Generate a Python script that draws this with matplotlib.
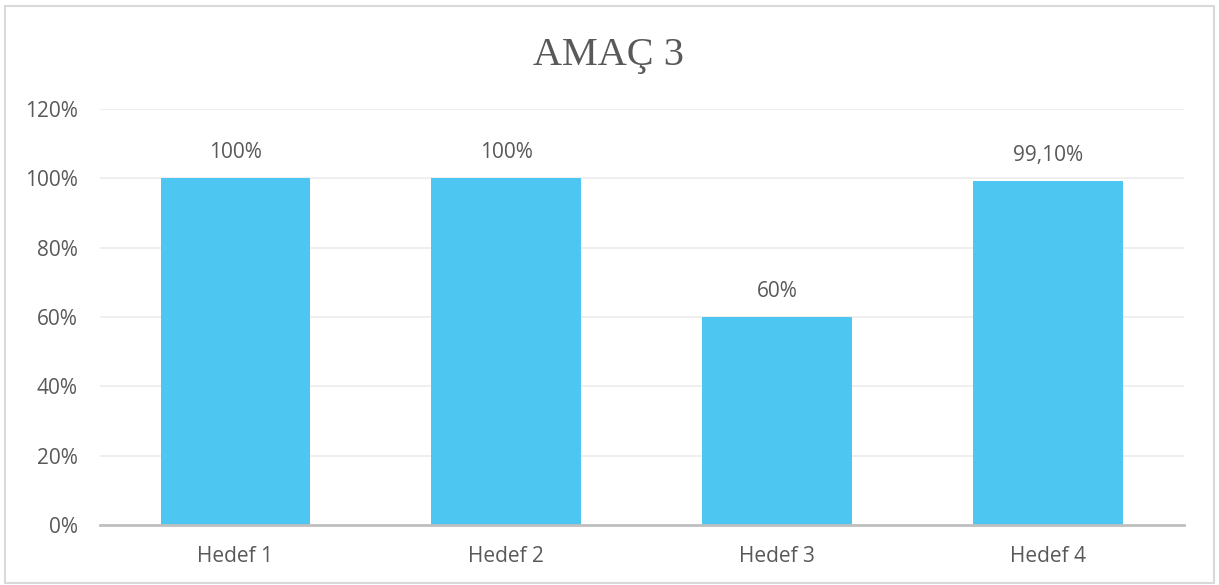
import matplotlib.pyplot as plt
from matplotlib.patches import Rectangle
from matplotlib.ticker import FuncFormatter

# Data
categories = ['Hedef 1', 'Hedef 2', 'Hedef 3', 'Hedef 4']
values = [100, 100, 60, 99.1]
value_labels = ['100%', '100%', '60%', '99,10%']
title = 'AMAÇ 3'

TEXT = '#595959'
BAR = '#4DC6F2'


def main():
    plt.rcParams['font.family'] = ['Open Sans', 'DejaVu Sans']

    fig = plt.figure(figsize=(12.19, 5.85), dpi=100)
    ax = fig.add_axes([0.082, 0.1026, 0.889, 0.7111])

    # Bars
    x = range(len(categories))
    bars = ax.bar(x, values, width=0.553, color=BAR, zorder=2)

    # Value labels
    for bar, label in zip(bars, value_labels):
        ax.annotate(label, (bar.get_x() + bar.get_width() / 2, bar.get_height()),
                    xytext=(0, 11), textcoords='offset points',
                    ha='center', va='bottom', fontsize=15, color=TEXT)

    # Axes
    ax.set_xlim(-0.5, len(categories) - 0.5)
    ax.set_ylim(0, 120)
    ax.set_yticks(range(0, 121, 20))
    ax.yaxis.set_major_formatter(FuncFormatter(lambda v, p: f'{int(v)}%'))
    ax.set_xticks(list(x))
    ax.set_xticklabels(categories)
    ax.tick_params(axis='y', length=0, pad=16, labelsize=15, labelcolor=TEXT)
    ax.tick_params(axis='x', length=0, pad=15, labelsize=15, labelcolor=TEXT)
    ax.grid(axis='y', color='#EEEEEE', linewidth=1.3, zorder=0)
    for side in ['top', 'right', 'left']:
        ax.spines[side].set_visible(False)
    ax.spines['bottom'].set_color('#BFBFBF')
    ax.spines['bottom'].set_linewidth(2)
    ax.spines['bottom'].set_zorder(3)

    # Title
    fig.text(0.499, 0.905, title, ha='center', va='center', fontsize=29,
             color=TEXT, family=['Liberation Serif', 'DejaVu Serif'])

    # Chart border
    fig.patches.append(Rectangle((0.004, 0.004), 0.992, 0.986, transform=fig.transFigure,
                                 fill=False, edgecolor='#D9D9D9', linewidth=1.5))

    fig.savefig('out.png', dpi=100)


if __name__ == '__main__':
    main()
